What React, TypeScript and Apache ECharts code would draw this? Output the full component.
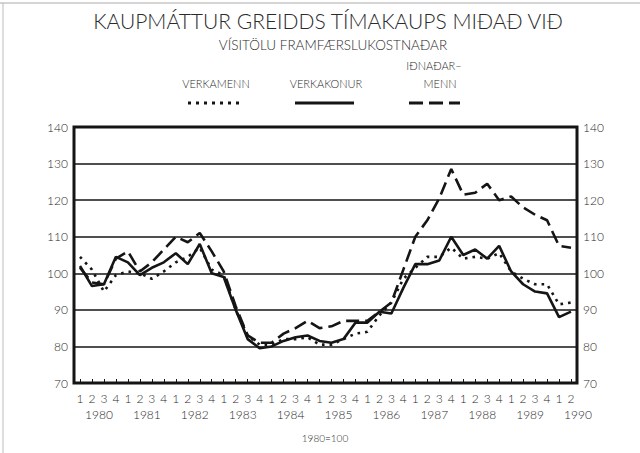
import React, { useEffect, useRef } from "react";
import * as echarts from "echarts";

const quarters = [
  "1","2","3","4","1","2","3","4","1","2","3","4","1","2","3","4",
  "1","2","3","4","1","2","3","4","1","2","3","4","1","2","3","4",
  "1","2","3","4","1","2","3","4","1","2",
];
const years = ["1980","1981","1982","1983","1984","1985","1986","1987","1988","1989","1990"];
const yTicks = { min: 70, max: 140, interval: 10 };

// Verkamenn (dotted)
const verkamenn = [
  104.5, 101, 95, 99.5, 100.5, 100, 98.5, 100.5, 103, 104.5, 107, 101,
  99.5, 90, 83, 80.5, 80.5, 82, 82, 82.5, 80.5, 80.5, 82, 83.5,
  84, 88.5, 92, 98.5, 101.5, 104.5, 104.5, 107, 104, 104.5, 104, 105.5,
  100.5, 98.5, 97, 97, 91.5, 92,
];
// Verkakonur (solid)
const verkakonur = [
  102, 96.5, 97, 104.5, 103, 99.5, 101.5, 103, 105.5, 102.5, 108, 100,
  99, 90, 82, 79.5, 80, 81.5, 82.5, 83, 81.5, 81, 82, 86.5,
  86.5, 89.5, 89, 96, 102.5, 102.5, 103.5, 110, 105, 106.5, 104, 107.5,
  100.5, 97, 95, 94.5, 88, 89.5,
];
// Iðnaðarmenn (dashed)
const idnadarmenn = [
  101.5, 97.5, 97, 104, 106, 100.5, 103, 106.5, 110, 108.5, 111, 106,
  100.5, 91, 83, 81, 81, 83.5, 85, 87, 85, 85.5, 87, 87,
  87, 89.5, 92, 101, 110, 114.5, 120.5, 128.5, 121.5, 122, 124.5, 120,
  121, 118, 116, 114.5, 107.5, 107,
];

const titleLine1 = "KAUPMÁTTUR GREIDDS TÍMAKAUPS MIÐAÐ VIÐ";
const titleLine2 = "VÍSITÖLU FRAMFÆRSLUKOSTNAÐAR";
const legendNames = ["VERKAMENN", "VERKAKONUR", "IÐNAÐAR–", "MENN"];
const footnote = "1980=100";

const INK = "#151515";
const TEXT = "#2a2a2a";
const FONT = "Lato";

export default function App() {
  const ref = useRef<HTMLDivElement>(null);
  useEffect(() => {
    document.body.style.margin = "0";
    if (!ref.current) return;
    const chart = echarts.init(ref.current, undefined, { renderer: "svg" });
    const yearAxisData = quarters.map((_, i) => (i % 4 === 1 ? years[Math.floor(i / 4)] : ""));
    const labelStyle = { color: TEXT, fontSize: 12, fontFamily: FONT, fontWeight: 300 as any };
    const txt = (text: string, x: number, y: number, size: number) => ({
      type: "text", x, y,
      style: { text, fill: TEXT, font: `300 ${size}px ${FONT}`, align: "center", verticalAlign: "middle" },
    });
    chart.setOption({
      animation: false,
      backgroundColor: "#fff",
      grid: {
        left: 74, right: 63, top: 127, bottom: 70,
        show: true, borderColor: INK, borderWidth: 3,
      },
      xAxis: [
        {
          type: "category", data: quarters, boundaryGap: true, position: "bottom",
          axisLine: { show: false },
          axisTick: { show: true, inside: true, length: 4, alignWithLabel: true, lineStyle: { color: INK } },
          axisLabel: { ...labelStyle, margin: 9, interval: 0 },
          splitLine: { show: false },
        },
        {
          type: "category", data: yearAxisData, boundaryGap: true, position: "bottom", offset: 16,
          axisLine: { show: false }, axisTick: { show: false },
          axisLabel: { ...labelStyle, margin: 9, interval: 0, padding: [0, 0, 0, 14] },
          splitLine: { show: false },
        },
      ],
      yAxis: [
        {
          type: "value", position: "left", ...yTicks,
          axisLine: { show: false }, axisTick: { show: false },
          axisLabel: { ...labelStyle, margin: 6 },
          splitLine: { show: true, lineStyle: { color: INK, width: 1.5 } },
        },
        {
          type: "value", position: "right", ...yTicks,
          axisLine: { show: false }, axisTick: { show: false },
          axisLabel: { ...labelStyle, margin: 6 },
          splitLine: { show: false },
        },
      ],
      series: [
        {
          name: legendNames[0], type: "line", data: verkamenn, symbol: "none",
          lineStyle: { color: INK, width: 2.6, type: [2.6, 5], cap: "butt" },
        },
        {
          name: legendNames[1], type: "line", data: verkakonur, symbol: "none",
          lineStyle: { color: INK, width: 2.6, type: "solid" },
        },
        {
          name: "IÐNAÐARMENN", type: "line", data: idnadarmenn, symbol: "none",
          lineStyle: { color: INK, width: 2.6, type: [13, 6], cap: "butt" },
        },
      ],
      graphic: [
        { type: "line", shape: { x1: 0, y1: 3, x2: 640, y2: 3 }, style: { stroke: "#aaa", lineWidth: 1 } },
        { type: "line", shape: { x1: 3, y1: 3, x2: 3, y2: 453 }, style: { stroke: "#bbb", lineWidth: 1 } },
        txt(titleLine1, 328, 20, 21),
        txt(titleLine2, 333, 45, 13.5),
        txt(legendNames[0], 216, 83, 11),
        txt(legendNames[1], 326, 83, 11),
        txt(legendNames[2], 434, 65, 11),
        txt(legendNames[3], 440, 83, 11),
        { type: "line", shape: { x1: 188, y1: 103, x2: 244, y2: 103 }, style: { stroke: INK, lineWidth: 3, lineDash: [3, 5] } },
        { type: "line", shape: { x1: 295, y1: 103, x2: 354, y2: 103 }, style: { stroke: INK, lineWidth: 3 } },
        { type: "line", shape: { x1: 409, y1: 103, x2: 460, y2: 103 }, style: { stroke: INK, lineWidth: 3, lineDash: [14, 6] } },
        txt(footnote, 325, 438, 10),
      ],
    });
    return () => chart.dispose();
  }, []);
  return <div ref={ref} style={{ width: 640, height: 453 }} />;
}
